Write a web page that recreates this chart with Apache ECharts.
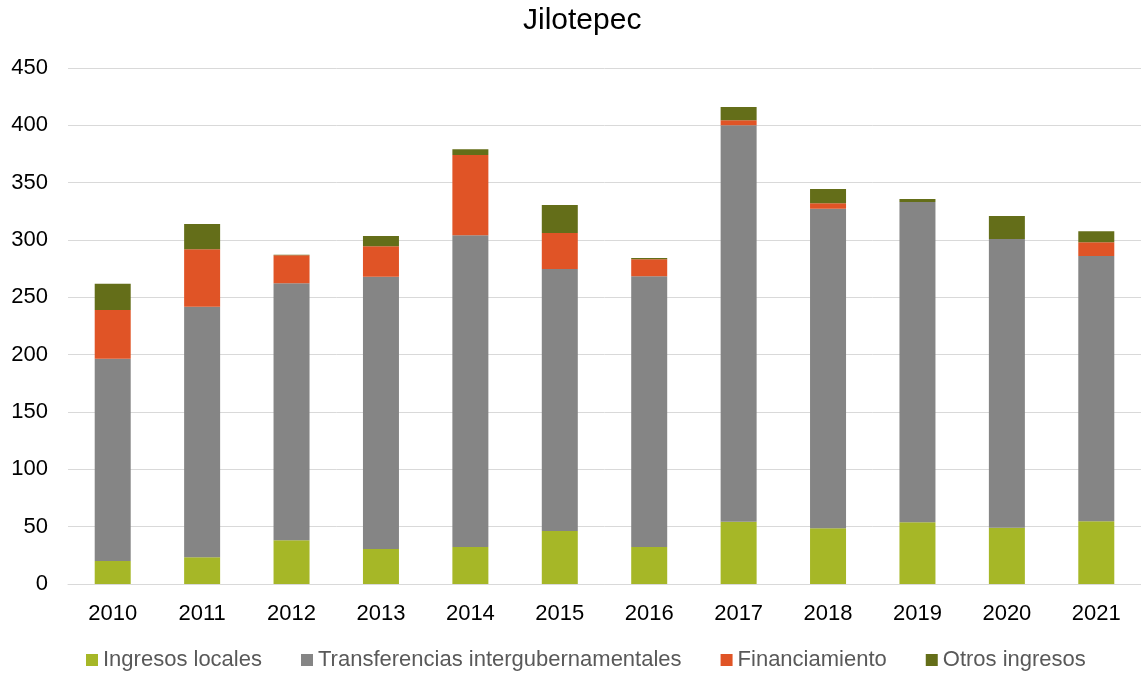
<!DOCTYPE html>
<html>
<head>
<meta charset="utf-8">
<script src="https://cdn.jsdelivr.net/npm/echarts@6/dist/echarts.min.js"></script>
<style>
html,body{margin:0;padding:0;background:#fff;}
#chart{width:1141px;height:675px;}
</style>
</head>
<body>
<div id="chart"></div>
<script>
const categories = ['2010','2011','2012','2013','2014','2015','2016','2017','2018','2019','2020','2021'];
const ingresosLocales = [20.1, 23.3, 38.1, 30.5, 32.3, 46.2, 32.3, 54.3, 48.6, 53.8, 49.1, 54.7];
const transferencias = [176.4, 218.5, 224.1, 237.5, 271.8, 228.5, 236.0, 345.7, 278.7, 279.3, 251.7, 231.3];
const financiamiento = [42.5, 50.1, 24.5, 26.5, 70.0, 31.4, 15.0, 4.4, 4.7, 0, 0, 12.1];
const otrosIngresos = [22.9, 22.0, 0.5, 9.0, 5.0, 24.4, 1.0, 11.6, 12.5, 2.7, 20.1, 9.5];
const seriesNames = ['Ingresos locales', 'Transferencias intergubernamentales', 'Financiamiento', 'Otros ingresos'];
const colors = ['#A6B727', '#858585', '#E05426', '#646E19'];

const chart = echarts.init(document.getElementById('chart'), null, {renderer: 'canvas'});
const font = 'Liberation Sans, Arial, sans-serif';
const dataSets = [ingresosLocales, transferencias, financiamiento, otrosIngresos];
chart.setOption({
  animation: false,
  backgroundColor: '#fff',
  color: colors,
  title: {
    text: 'Jilotepec',
    left: 523,
    top: 6,
    padding: 0,
    textStyle: {fontFamily: font, fontSize: 30, fontWeight: 'normal', color: '#000'}
  },
  legend: {
    data: seriesNames,
    left: 86,
    top: 649,
    padding: 0,
    itemWidth: 12,
    itemHeight: 12,
    itemGap: 39,
    icon: 'rect',
    textStyle: {fontFamily: font, fontSize: 22, color: '#595959'}
  },
  grid: {left: 68, right: 0, top: 68, bottom: 91, containLabel: false},
  xAxis: {
    type: 'category',
    data: categories,
    axisLine: {show: true, lineStyle: {color: '#d9d9d9', width: 1}},
    axisTick: {show: false},
    axisLabel: {fontFamily: font, fontSize: 22, color: '#000', margin: 19}
  },
  yAxis: {
    type: 'value',
    min: 0,
    max: 450,
    interval: 50,
    axisLine: {show: false},
    axisTick: {show: false},
    splitLine: {lineStyle: {color: '#d9d9d9', width: 1}},
    axisLabel: {fontFamily: font, fontSize: 22, color: '#000', margin: 20}
  },
  series: seriesNames.map((name, i) => ({
    name: name,
    type: 'bar',
    stack: 'total',
    barWidth: 36,
    data: dataSets[i],
    itemStyle: {color: colors[i]}
  }))
});
</script>
</body>
</html>
